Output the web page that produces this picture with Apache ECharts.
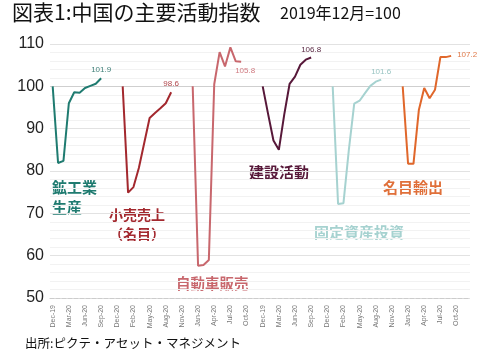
<!DOCTYPE html>
<html><head><meta charset="utf-8">
<script src="https://cdn.jsdelivr.net/npm/echarts@6/dist/echarts.min.js"></script>
<style>html,body{margin:0;padding:0;background:#fff}#c{width:490px;height:362px}</style>
</head><body><div id="c"></div>
<script>
const months = ['Dec-19','Jan-20','Feb-20','Mar-20','Apr-20','May-20','Jun-20','Jul-20','Aug-20','Sep-20','Oct-20','Nov-20','Dec-20'];
const seriesNames = ['鉱工業生産','小売売上（名目）','自動車販売','建設活動','固定資産投資','名目輸出'];
const mining       = [100, 81.9, 82.4, 96.0, 98.6, 98.5, 99.6, 100.1, 100.6, 101.9];
const retail       = [100, 74.9, 76.2, 80.7, 86.6, 92.5, 93.7, 94.8, 96.0, 98.6];
const carSales     = [100, 57.6, 57.8, 59.0, 100.5, 108.1, 104.7, 109.2, 105.9, 105.8];
const construction = [100, 93.5, 87.2, 85.0, 93.3, 100.6, 102.3, 105.1, 106.3, 106.8];
const fai          = [100, 72.2, 72.4, 85.0, 95.9, 96.6, 98.4, 100.1, 101.1, 101.6];
const exportsNom   = [100, 81.7, 81.7, 94.4, 99.6, 97.2, 99.2, 106.9, 106.9, 107.2];
const yTicks = [50, 60, 70, 80, 90, 100, 110];

const allValues = [mining, retail, carSales, construction, fai, exportsNom];
const colors = ['#1f7b70', '#a3282e', '#c8676d', '#571839', '#a6d2d0', '#e0672b'];
const labelColors = ['#3f7f78', '#b0464b', '#d07a80', '#5a2a44', '#98c4c2', '#e07a4a'];
const endLabelPos = [
  {position:'top', distance:4},
  {position:'top', distance:4},
  {position:'bottom', distance:5, offset:[4,0]},
  {position:'top', distance:4},
  {position:'top', distance:4},
  {position:'right', distance:6, offset:[0,-1]}
];
const block = months.length;
const categories = [];
for (let b = 0; b < allValues.length; b++) categories.push(...months);

const series = allValues.map((vals, si) => {
  const data = new Array(categories.length).fill(null);
  vals.forEach((v, i) => {
    if (i === vals.length - 1) {
      data[si*block + i] = {value: v, label: Object.assign({show:true, color: labelColors[si], fontSize: 8, fontFamily:'Liberation Sans', formatter: p => Number(p.value).toFixed(1)}, endLabelPos[si])};
    } else {
      data[si*block + i] = v;
    }
  });
  const s = {
    name: seriesNames[si], type:'line', data, symbol:'circle', symbolSize:0, showSymbol:true, connectNulls:false,
    lineStyle:{color: colors[si], width: 2}, itemStyle:{color: colors[si]}, z: 3, animation:false
  };
  if (si === 0) {
    s.markLine = {silent:true, symbol:'none', label:{show:false}, lineStyle:{color:'#cfcfcf', type:'solid', width:1}, data:[{yAxis:100}], animation:false, z:1};
  }
  return s;
});

const chart = echarts.init(document.getElementById('c'), null, {renderer:'canvas'});
chart.setOption({
  animation:false,
  backgroundColor:'#fff',
  title:[
    {text:'図表1:中国の主要活動指数', left:12, top:2, padding:0, textStyle:{fontSize:21, fontWeight:'normal', color:'#111', fontFamily:'Noto Sans CJK JP'}},
    {text:'2019年12月=100', left:280, top:5, padding:0, textStyle:{fontSize:16, fontWeight:'normal', color:'#111', fontFamily:'Noto Sans CJK JP'}},
    {text:'出所:ピクテ・アセット・マネジメント', left:25, top:337, padding:0, textStyle:{fontSize:12.5, fontWeight:'normal', color:'#111', fontFamily:'Noto Sans CJK JP'}}
  ],
  grid:{left:50, right:20, top:44, bottom:64, containLabel:false},
  xAxis:{
    type:'category', data:categories, boundaryGap:true,
    axisLine:{show:true, lineStyle:{color:'#cccccc', type:'dashed', width:1}},
    axisTick:{show:false},
    axisLabel:{interval:2, rotate:90, fontSize:7, color:'#777', margin:7, fontFamily:'Liberation Sans'},
    splitLine:{show:false}
  },
  yAxis:{
    type:'value', min:yTicks[0], max:yTicks[yTicks.length-1], interval:10,
    axisLine:{show:false}, axisTick:{show:false},
    axisLabel:{fontSize:16, color:'#222', margin:6, fontFamily:'Liberation Sans'},
    splitLine:{show:true, lineStyle:{color:'#e2e2e2', width:1}},
    minorTick:{show:false, splitNumber:5},
    minorSplitLine:{show:true, lineStyle:{color:'#f2f2f2', width:1}}
  },
  graphic:[
    {type:'text', left:52, top:177, style:{text:'鉱工業\n生産', fill:'#1f7b70', font:'bold 15px "Noto Sans CJK JP"', lineHeight:20}},
    {type:'text', left:109, top:205, style:{text:'小売売上\n（名目）', fill:'#a3282e', font:'bold 14px "Noto Sans CJK JP"', lineHeight:19}},
    {type:'text', left:176, top:276, style:{text:'自動車販売', fill:'#c8676d', font:'bold 14.5px "Noto Sans CJK JP"'}},
    {type:'text', left:249, top:165, style:{text:'建設活動', fill:'#571839', font:'bold 15px "Noto Sans CJK JP"'}},
    {type:'text', left:314, top:225, style:{text:'固定資産投資', fill:'#a6d2d0', font:'bold 15px "Noto Sans CJK JP"'}},
    {type:'text', left:383, top:180, style:{text:'名目輸出', fill:'#e0703a', font:'bold 15px "Noto Sans CJK JP"'}}
  ],
  series
});
</script>
</body></html>
